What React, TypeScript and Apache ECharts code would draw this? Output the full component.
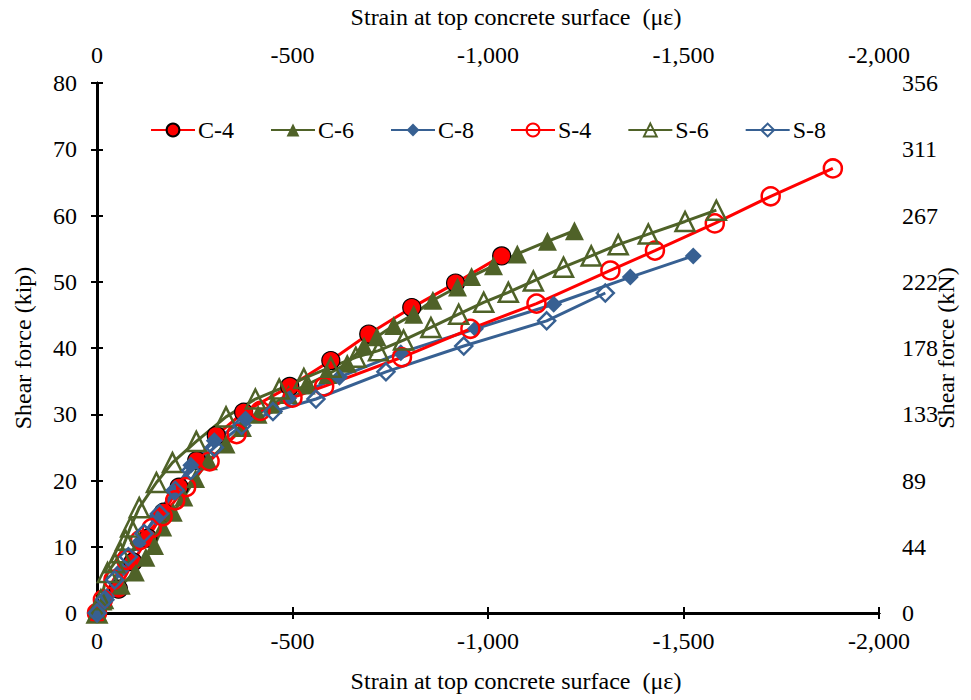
import React, { useEffect, useRef } from "react";
import * as echarts from "echarts";

const seriesNames = ["C-4", "C-6", "C-8", "S-4", "S-6", "S-8"];

const c4: number[][] = [
  [0, 0], [-55, 3.6], [-92, 7.7], [-130, 11.3], [-170, 15.2], [-210, 19], [-255, 23],
  [-305, 26.8], [-375, 30.3], [-493, 34.2], [-598, 38.1], [-695, 42.1], [-805, 46.1],
  [-917, 49.8], [-1035, 53.9],
];
const c6: number[][] = [
  [0, 0], [-20, 2], [-62, 4.2], [-98, 6.2], [-125, 8.4], [-147, 10.2], [-168, 13], [-195, 15.2],
  [-222, 17.5], [-252, 20.3], [-285, 23], [-330, 25.5], [-372, 28], [-412, 30], [-450, 31.5],
  [-490, 33], [-535, 34.4], [-590, 36], [-640, 37.7], [-683, 40.3], [-716, 41.7], [-759, 43.4],
  [-810, 45.1], [-859, 47.2], [-922, 49.2], [-958, 50.8], [-1014, 52.4], [-1075, 54.2],
  [-1152, 56.1], [-1221, 57.7],
];
const c8: number[][] = [
  [0, 0], [-25, 2.5], [-62, 6.5], [-105, 10.5], [-150, 14.5], [-195, 18.3], [-240, 22.3],
  [-300, 26], [-380, 29.3], [-490, 32.4], [-620, 35.6], [-777, 39.3], [-968, 42.9],
  [-1168, 46.6], [-1364, 50.7], [-1525, 53.9],
];
const s4: number[][] = [
  [0, 0], [-15, 2], [-42, 5], [-75, 8], [-110, 11], [-140, 12.8], [-168, 14.6], [-200, 17],
  [-228, 19], [-288, 22.9], [-357, 27], [-418, 30.5], [-500, 32.5], [-581, 34.2],
  [-780, 38.6], [-955, 42.9], [-1124, 46.7], [-1313, 51.7], [-1427, 54.7], [-1580, 58.8],
  [-1723, 62.9], [-1882, 67.1],
];
const s6: number[][] = [
  [0, 0], [-10, 2], [-27, 6.1], [-45, 7.6], [-60, 9.1], [-73, 11], [-86, 13], [-108, 15.9],
  [-152, 19.7], [-193, 22.7], [-254, 25.9], [-330, 29.6], [-405, 32.3], [-466, 33.8],
  [-529, 35.4], [-598, 37.1], [-662, 38.6], [-720, 39.6], [-784, 41.2], [-854, 43.1],
  [-925, 45.1], [-989, 46.9], [-1052, 48.4], [-1116, 50.1], [-1193, 52.2], [-1264, 53.9],
  [-1333, 55.6], [-1410, 57.2], [-1504, 59.1], [-1584, 60.8],
];
const s8: number[][] = [
  [0, 0], [-20, 2], [-45, 5], [-80, 8.5], [-120, 12], [-160, 15], [-200, 18.5], [-240, 21.5],
  [-300, 25], [-370, 28.3], [-450, 30.4], [-560, 32.3], [-739, 36.4], [-938, 40.3],
  [-1150, 44.1], [-1300, 48.3],
];

const xTickLabels = ["0", "-500", "-1,000", "-1,500", "-2,000"];
const rightTickLabels = ["0", "44", "89", "133", "178", "222", "267", "311", "356"];

const RED = "#FF0000";
const GREEN = "#4F6228";
const BLUE = "#376092";
const FONT = "'Liberation Serif', 'Times New Roman', serif";

export default function App() {
  const ref = useRef<HTMLDivElement>(null);
  useEffect(() => {
    document.body.style.margin = "0";
    if (!ref.current) return;
    const chart = echarts.init(ref.current, null, { renderer: "svg" });
    const txt = { fontFamily: FONT, fontSize: 24, color: "#000" };
    const xFmt = (v: number) => xTickLabels[Math.round(-v / 500)] ?? "";
    const axisLine = { show: true, lineStyle: { color: "#000", width: 2.5 } };
    const baseX = {
      type: "value" as const, min: -2000, max: 0, interval: 500, inverse: true,
      splitLine: { show: false }, axisLine,
    };
    const baseY = {
      type: "value" as const, min: 0, max: 80, interval: 10,
      splitLine: { show: false }, axisLine,
    };
    const tickOut = { show: true, inside: false, length: 6, lineStyle: { color: "#000", width: 2 } };
    const tickIn = { show: true, inside: true, length: 6, lineStyle: { color: "#000", width: 2 } };
    const xName = "Strain at top concrete surface  (\u03bc\u03b5)";
    const xNameStyle = { ...txt, padding: [0, 0, 0, 56] };

    const mk = (
      name: string, data: number[][], color: string, symbol: string, size: number, filled: boolean, border?: string
    ) => ({
      name, type: "line", data, symbol, symbolSize: size, showSymbol: true,
      lineStyle: { color, width: 3 },
      itemStyle: filled
        ? { color, borderColor: border ?? color, borderWidth: border ? 1.2 : 0 }
        : { color: "rgba(255,255,255,0)", borderColor: color, borderWidth: 2.5 },
      xAxisIndex: 0, yAxisIndex: 0,
    });

    chart.setOption({
      animation: false,
      backgroundColor: "#fff",
      grid: { left: 97, right: 92, top: 83, bottom: 87, containLabel: false, outerBoundsMode: "none" },
      legend: {
        top: 113, left: 145, itemWidth: 44, itemHeight: 16, itemGap: 36,
        textStyle: { fontFamily: FONT, fontSize: 24, color: "#000", padding: [0, 0, 0, -2] },
        data: seriesNames,
      },
      xAxis: [
        {
          ...baseX, position: "bottom", axisTick: tickOut,
          axisLabel: { ...txt, margin: 16, formatter: xFmt },
          name: xName, nameLocation: "middle", nameGap: 56, nameTextStyle: xNameStyle,
        },
        {
          ...baseX, position: "top", axisTick: tickOut,
          axisLabel: { ...txt, margin: 16, formatter: xFmt },
          name: xName, nameLocation: "middle", nameGap: 54, nameTextStyle: xNameStyle,
        },
        { ...baseX, position: "bottom", axisTick: tickIn, axisLabel: { show: false } },
        { ...baseX, position: "top", axisTick: tickIn, axisLabel: { show: false } },
      ],
      yAxis: [
        {
          ...baseY, position: "left", axisTick: tickOut,
          axisLabel: { ...txt, margin: 20 },
          name: "Shear force (kip)", nameLocation: "middle", nameGap: 62, nameRotate: 90,
          nameTextStyle: txt,
        },
        {
          ...baseY, position: "right", axisTick: tickOut,
          axisLabel: { ...txt, margin: 23, formatter: (v: number) => rightTickLabels[Math.round(v / 10)] ?? "" },
          name: "Shear force (kN)", nameLocation: "middle", nameGap: 55, nameRotate: 90,
          nameMoveOverlap: false,
          nameTextStyle: { ...txt, lineHeight: 24 },
        },
        { ...baseY, position: "left", axisTick: tickIn, axisLabel: { show: false } },
        { ...baseY, position: "right", axisTick: tickIn, axisLabel: { show: false } },
      ],
      series: [
        mk("C-4", c4, RED, "circle", 18, true, "#000"),
        mk("C-6", c6, GREEN, "triangle", 19, true),
        mk("C-8", c8, BLUE, "diamond", 17, true),
        mk("S-4", s4, RED, "circle", 18, false),
        mk("S-6", s6, GREEN, "triangle", 19, false),
        mk("S-8", s8, BLUE, "diamond", 17, false),
      ],
    });
    return () => chart.dispose();
  }, []);
  return <div ref={ref} style={{ width: 971, height: 700 }} />;
}
